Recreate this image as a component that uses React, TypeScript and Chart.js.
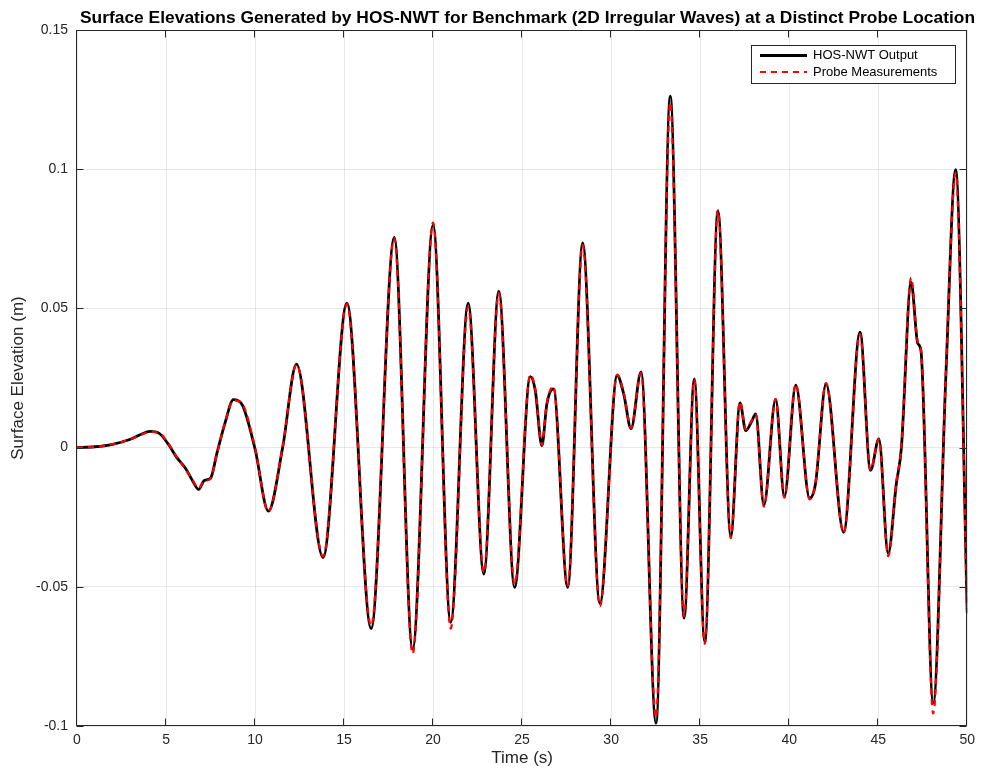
import React, { useEffect, useRef } from "react";
import { Chart, registerables } from "chart.js";

Chart.register(...registerables);

const chartTitle =
  "Surface Elevations Generated by HOS-NWT for Benchmark (2D Irregular Waves) at a Distinct Probe Location";
const xAxisTitle = "Time (s)";
const yAxisTitle = "Surface Elevation (m)";
const seriesLabels = ["HOS-NWT Output", "Probe Measurements"];

const xTicks = [0, 5, 10, 15, 20, 25, 30, 35, 40, 45, 50];
const yTicks = [-0.1, -0.05, 0, 0.05, 0.1, 0.15];
const yTickLabels = ["-0.1", "-0.05", "0", "0.05", "0.1", "0.15"];

const timeS = [
  0, 1.0, 2.0, 3.0, 3.6, 4.1, 4.6, 5.1, 5.6, 6.1, 6.5, 6.83, 7.15, 7.5, 7.86,
  8.3, 8.79, 9.25, 10.0, 10.75, 11.55, 12.33, 13.82, 15.16, 16.52, 17.82,
  18.85, 20.0, 20.99, 21.97, 22.85, 23.69, 24.58, 25.46, 25.74, 26.11, 26.39,
  26.76, 27.56, 28.4, 29.37, 30.34, 30.7, 31.12, 31.68, 32.52, 33.32, 34.1,
  34.67, 35.26, 36.0, 36.72, 37.24, 37.56, 37.87, 38.12, 38.58, 39.24, 39.73,
  40.37, 41.15, 41.48, 42.07, 43.06, 43.98, 44.57, 45.04, 45.56, 46.02, 46.3,
  46.85, 47.22, 47.4, 48.09, 48.8, 49.35, 50.0,
];

const hosOutput = [
  0, 0.0003, 0.0012, 0.003, 0.0048, 0.0058, 0.0052, 0.0015, -0.0035, -0.0075,
  -0.012, -0.015, -0.0118, -0.011, -0.002, 0.0085, 0.0172, 0.0157, -0.0005,
  -0.0228, 0.0, 0.03, -0.0395, 0.0519, -0.065, 0.0755, -0.0724, 0.08, -0.0628,
  0.0519, -0.0454, 0.0562, -0.0502, 0.0255, 0.0205, 0.0007, 0.0157, 0.0211,
  -0.0502, 0.0735, -0.056, 0.0259, 0.0195, 0.0068, 0.0272, -0.099, 0.1262,
  -0.0612, 0.0247, -0.0698, 0.085, -0.0318, 0.0161, 0.0061, 0.0091, 0.0121,
  -0.0207, 0.0173, -0.0176, 0.0224, -0.0182, -0.0129, 0.0229, -0.0304, 0.0415,
  -0.0082, 0.0031, -0.0381, -0.0129, -0.0003, 0.0594, 0.0375, 0.0349, -0.0918,
  0.0256, 0.0998, -0.0593,
];

const probeMeasurements = [
  0, 0.0003, 0.0012, 0.003, 0.0046, 0.0056, 0.0054, 0.0017, -0.0033, -0.0078,
  -0.0118, -0.0146, -0.012, -0.0112, -0.0022, 0.0087, 0.017, 0.016, 0.0,
  -0.023, 0.0002, 0.0298, -0.039, 0.0515, -0.064, 0.0752, -0.074, 0.0808,
  -0.065, 0.0505, -0.0448, 0.0555, -0.049, 0.0262, 0.021, 0.001, 0.016, 0.022,
  -0.0498, 0.0728, -0.057, 0.0262, 0.02, 0.007, 0.0268, -0.097, 0.124,
  -0.0605, 0.0245, -0.0705, 0.0852, -0.0325, 0.0165, 0.0065, 0.0095, 0.0118,
  -0.0212, 0.0175, -0.018, 0.0228, -0.0186, -0.0127, 0.0232, -0.0306, 0.0408,
  -0.008, 0.003, -0.039, -0.0125, 0.0, 0.061, 0.038, 0.0352, -0.0955, 0.026,
  0.0985, -0.0605,
];

const FONT = '"Liberation Sans", Arial, Helvetica, sans-serif';
const INK = "#262626";

const decorPlugin = {
  id: "decor",
  afterDraw(chart: any) {
    const { ctx, chartArea: a, scales } = chart;
    const xs = scales.x;
    const ys = scales.y;
    ctx.save();

    // axes box
    ctx.strokeStyle = INK;
    ctx.lineWidth = 1;
    const L = Math.round(a.left) - 0.5;
    const R = Math.round(a.right) - 0.5;
    const T = Math.round(a.top) + 0.5;
    const B = Math.round(a.bottom) - 0.5;
    ctx.beginPath();
    ctx.rect(L, T, R - L, B - T);
    ctx.stroke();

    // inward ticks
    const tl = 7;
    ctx.beginPath();
    xTicks.forEach((v) => {
      const px = Math.round(xs.getPixelForValue(v)) - 0.5;
      ctx.moveTo(px, B);
      ctx.lineTo(px, B - tl);
      ctx.moveTo(px, T);
      ctx.lineTo(px, T + tl);
    });
    yTicks.forEach((v) => {
      const py = Math.round(ys.getPixelForValue(v)) + 0.5;
      ctx.moveTo(L, py);
      ctx.lineTo(L + tl, py);
      ctx.moveTo(R, py);
      ctx.lineTo(R - tl, py);
    });
    ctx.stroke();

    // title
    ctx.fillStyle = "#000";
    ctx.font = `bold 17px ${FONT}`;
    ctx.textBaseline = "alphabetic";
    ctx.textAlign = "left";
    const targetW = 895;
    const w = ctx.measureText(chartTitle).width;
    const sx = targetW / w;
    ctx.save();
    ctx.translate(80, 23);
    ctx.scale(sx, 1);
    ctx.fillText(chartTitle, 0, 0);
    ctx.restore();

    // axis titles
    ctx.fillStyle = INK;
    ctx.font = `17px ${FONT}`;
    ctx.textAlign = "center";
    ctx.textBaseline = "middle";
    ctx.fillText(xAxisTitle, (a.left + a.right) / 2, 758);
    ctx.save();
    ctx.translate(18, (a.top + a.bottom) / 2);
    ctx.rotate(-Math.PI / 2);
    ctx.fillText(yAxisTitle, 0, 0);
    ctx.restore();

    // legend
    const bx = 751.5, by = 45.5, bw = 204, bh = 38;
    ctx.fillStyle = "#fff";
    ctx.fillRect(bx, by, bw, bh);
    ctx.strokeStyle = INK;
    ctx.lineWidth = 1;
    ctx.strokeRect(bx, by, bw, bh);
    const rows = [55.5, 72];
    chart.data.datasets.forEach((ds: any, i: number) => {
      const y = rows[i];
      ctx.beginPath();
      ctx.strokeStyle = ds.borderColor;
      ctx.lineWidth = ds.borderWidth;
      ctx.setLineDash(ds.borderDash || []);
      ctx.moveTo(760, y);
      ctx.lineTo(807, y);
      ctx.stroke();
      ctx.setLineDash([]);
      ctx.fillStyle = "#000";
      ctx.font = `13px ${FONT}`;
      ctx.textAlign = "left";
      ctx.textBaseline = "middle";
      ctx.fillText(ds.label, 813, y);
    });

    ctx.restore();
  },
};

export default function App() {
  const canvasRef = useRef<HTMLCanvasElement | null>(null);

  useEffect(() => {
    document.body.style.margin = "0";
    const canvas = canvasRef.current;
    if (!canvas) return;
    const hosPts = timeS.map((t, i) => ({ x: t, y: hosOutput[i] }));
    const probePts = timeS.map((t, i) => ({ x: t, y: probeMeasurements[i] }));

    const chart = new Chart(canvas, {
      type: "line",
      data: {
        datasets: [
          {
            label: seriesLabels[0],
            data: hosPts,
            borderColor: "#000000",
            borderWidth: 2.8,
            pointRadius: 0,
            cubicInterpolationMode: "monotone",
            fill: false,
            order: 2,
          },
          {
            label: seriesLabels[1],
            data: probePts,
            borderColor: "#ff0000",
            borderWidth: 2.2,
            borderDash: [6, 5],
            pointRadius: 0,
            cubicInterpolationMode: "monotone",
            fill: false,
            order: 1,
          },
        ],
      },
      options: {
        animation: false,
        responsive: true,
        maintainAspectRatio: false,
        layout: { padding: { left: 0, right: 10, top: 30, bottom: 0 } },
        plugins: {
          legend: { display: false },
          title: { display: false },
          tooltip: { enabled: false },
        },
        scales: {
          x: {
            type: "linear",
            min: 0,
            max: 50,
            afterBuildTicks: (scale: any) => {
              scale.ticks = xTicks.map((v) => ({ value: v }));
            },
            afterFit: (scale: any) => {
              scale.height = 44;
            },
            ticks: {
              color: INK,
              font: { family: FONT, size: 14 },
              padding: 6,
              maxRotation: 0,
              callback: (v: any) => String(v),
            },
            grid: { color: "rgba(0,0,0,0.09)", drawTicks: false },
            border: { display: false },
          },
          y: {
            type: "linear",
            min: -0.1,
            max: 0.15,
            afterBuildTicks: (scale: any) => {
              scale.ticks = yTicks.map((v) => ({ value: v }));
            },
            afterFit: (scale: any) => {
              scale.width = 77;
            },
            ticks: {
              color: INK,
              font: { family: FONT, size: 14 },
              padding: 9,
              callback: (v: any) => {
                const i = yTicks.findIndex((t) => Math.abs(t - v) < 1e-9);
                return i >= 0 ? yTickLabels[i] : "";
              },
            },
            grid: { color: "rgba(0,0,0,0.09)", drawTicks: false },
            border: { display: false },
          },
        },
      },
      plugins: [decorPlugin],
    });
    return () => chart.destroy();
  }, []);

  return (
    <div style={{ width: 981, height: 770, position: "relative" }}>
      <canvas ref={canvasRef} />
    </div>
  );
}
